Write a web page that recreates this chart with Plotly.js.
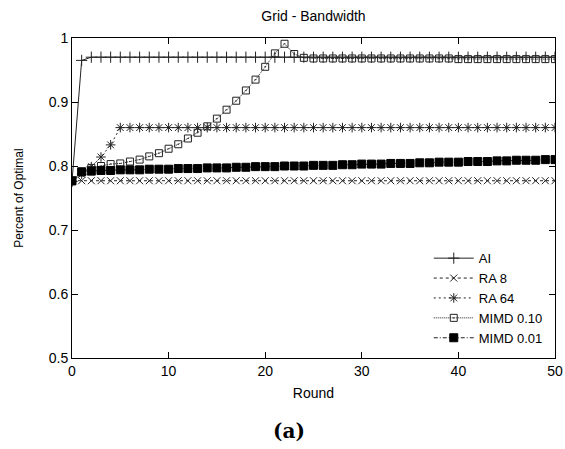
<!DOCTYPE html>
<html>
<head>
<meta charset="utf-8">
<script src="https://cdn.plot.ly/plotly-3.0.1.min.js"></script>
<style>html,body{margin:0;padding:0;background:#fff;}#chart{width:565px;height:449px;}</style>
</head>
<body>
<div id="chart"></div>
<script>
const rounds = [0,1,2,3,4,5,6,7,8,9,10,11,12,13,14,15,16,17,18,19,20,21,22,23,24,25,26,27,28,29,30,31,32,33,34,35,36,37,38,39,40,41,42,43,44,45,46,47,48,49,50];

const ai = [0.776,0.965,0.970,0.970,0.970,0.970,0.970,0.970,0.970,0.970,0.970,0.970,0.970,0.970,0.970,0.970,0.970,0.970,0.970,0.970,0.970,0.970,0.970,0.970,0.970,0.970,0.970,0.970,0.970,0.970,0.970,0.970,0.970,0.970,0.970,0.970,0.970,0.970,0.970,0.970,0.970,0.970,0.970,0.970,0.970,0.970,0.970,0.970,0.970,0.970,0.970];

const ra8 = [0.777,0.777,0.777,0.777,0.777,0.777,0.777,0.777,0.777,0.777,0.777,0.777,0.777,0.777,0.777,0.777,0.777,0.777,0.777,0.777,0.777,0.777,0.777,0.777,0.777,0.777,0.777,0.777,0.777,0.777,0.777,0.777,0.777,0.777,0.777,0.777,0.777,0.777,0.777,0.777,0.777,0.777,0.777,0.777,0.777,0.777,0.777,0.777,0.777,0.777,0.777];

const ra64 = [0.776,0.787,0.799,0.814,0.833,0.860,0.860,0.860,0.860,0.860,0.860,0.860,0.860,0.860,0.860,0.860,0.860,0.860,0.860,0.860,0.860,0.860,0.860,0.860,0.860,0.860,0.860,0.860,0.860,0.860,0.860,0.860,0.860,0.860,0.860,0.860,0.860,0.860,0.860,0.860,0.860,0.860,0.860,0.860,0.860,0.860,0.860,0.860,0.860,0.860,0.860];

const mimd10 = [0.776,0.790,0.797,0.800,0.803,0.804,0.807,0.810,0.815,0.820,0.827,0.834,0.843,0.852,0.862,0.874,0.888,0.902,0.918,0.935,0.955,0.976,0.991,0.975,0.969,0.968,0.968,0.968,0.968,0.968,0.968,0.968,0.968,0.968,0.968,0.968,0.968,0.968,0.968,0.968,0.967,0.967,0.967,0.967,0.967,0.967,0.967,0.967,0.967,0.967,0.967];

const mimd01 = [0.777,0.791,0.792,0.793,0.793,0.794,0.794,0.794,0.795,0.795,0.795,0.796,0.796,0.796,0.797,0.797,0.797,0.798,0.798,0.799,0.799,0.799,0.800,0.800,0.800,0.801,0.801,0.801,0.802,0.802,0.803,0.803,0.803,0.804,0.804,0.804,0.805,0.805,0.806,0.806,0.806,0.807,0.807,0.807,0.808,0.808,0.809,0.809,0.809,0.810,0.810];

const seriesNames = ["AI", "RA 8", "RA 64", "MIMD 0.10", "MIMD 0.01"];
const xTicks = [0,10,20,30,40,50];
const yTicks = [0.5,0.6,0.7,0.8,0.9,1];
const yTickText = ["0.5","0.6","0.7","0.8","0.9","1"];

const lc = '#222';
function tr(y, name, dash, sym, size, filled) {
  return {
    x: rounds, y: y, name: name, type: 'scatter', mode: 'lines+markers',
    line: {color: lc, width: 1, dash: dash},
    marker: {symbol: sym, size: size, color: filled ? '#000' : lc, line: {color: '#000', width: 1}}
  };
}
const data = [
  tr(ai, seriesNames[0], 'solid', 'cross-thin-open', 8, false),
  tr(ra8, seriesNames[1], '3px,3px', 'x-thin-open', 7, false),
  tr(ra64, seriesNames[2], '2px,3px', 'asterisk-open', 8, false),
  tr(mimd10, seriesNames[3], '1px,1px', 'square-open-dot', 7, false),
  tr(mimd01, seriesNames[4], '4px,2px,1px,2px', 'square', 8, true)
];

const fontFam = '"Liberation Sans", Arial, Helvetica, sans-serif';
const layout = {
  width: 565, height: 449,
  margin: {l: 72, r: 10, t: 38, b: 91},
  paper_bgcolor: '#fff', plot_bgcolor: '#fff',
  font: {family: fontFam, size: 14, color: '#000'},
  title: {text: 'Grid - Bandwidth', font: {size: 14, family: fontFam}, xref: 'paper', x: 0.5, xanchor: 'center', yref: 'container', y: 0.964, yanchor: 'middle'},
  xaxis: {
    range: [0, 50], tickvals: xTicks, ticks: 'inside', ticklen: 6, tickcolor: '#000',
    showline: true, linecolor: '#000', linewidth: 1, mirror: 'ticks', showgrid: false, zeroline: false,
    title: {text: 'Round', font: {size: 14}, standoff: 10}, tickfont: {size: 14}
  },
  yaxis: {
    range: [0.5, 1], tickvals: yTicks, ticktext: yTickText, ticks: 'inside', ticklen: 6, tickcolor: '#000',
    showline: true, linecolor: '#000', linewidth: 1, mirror: 'ticks', showgrid: false, zeroline: false,
    title: {text: 'Percent of Optimal', font: {size: 12}, standoff: 22}, tickfont: {size: 14}
  },
  legend: {
    x: 0.985, xanchor: 'right', y: 0.015, yanchor: 'bottom',
    bgcolor: 'rgba(0,0,0,0)', borderwidth: 0, font: {size: 13},
    tracegroupgap: 0, itemwidth: 40
  },
  showlegend: true,
  annotations: [{
    text: '<b>(a)</b>', xref: 'paper', yref: 'paper', x: 0.449, y: -0.228, xanchor: 'center', yanchor: 'middle',
    showarrow: false, font: {family: '"DejaVu Serif", "Liberation Serif", serif', size: 20}
  }]
};
Plotly.newPlot('chart', data, layout, {displayModeBar: false, staticPlot: true});
</script>
</body>
</html>
